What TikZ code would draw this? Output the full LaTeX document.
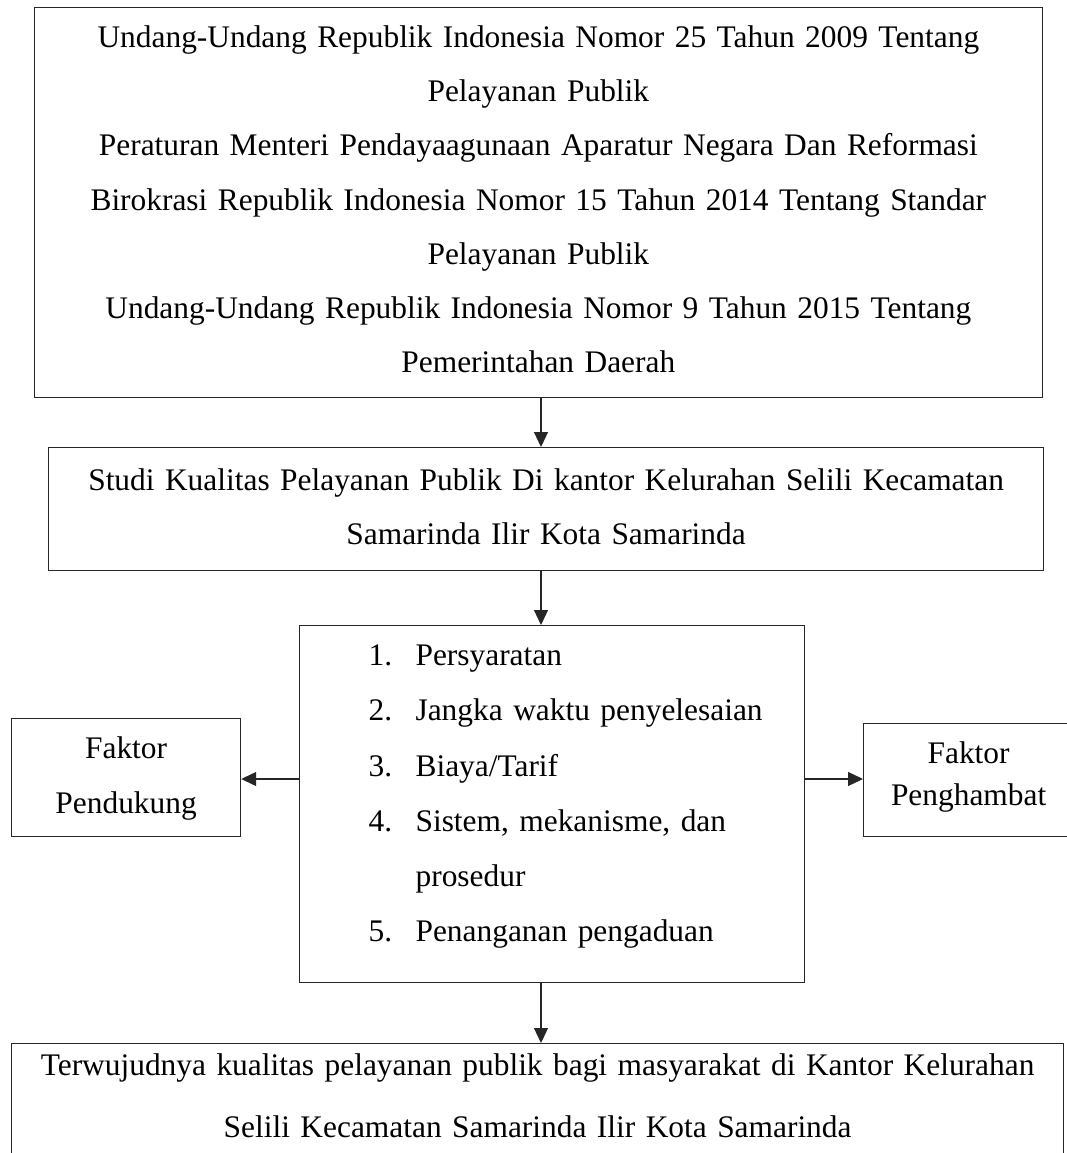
\documentclass[tikz,border=0pt]{standalone}
\usepackage{fontspec}
\setmainfont{Liberation Serif}
\usetikzlibrary{arrows.meta}
\tikzset{
  box/.style={draw=black!85, line width=1.2pt, inner sep=0pt, anchor=north west, align=center},
  listbox/.style={draw=black!85, line width=1.2pt, inner sep=0pt, anchor=north west, align=left},
  arr/.style={draw=black!85, line width=1.2pt, -{Triangle[length=15pt,width=14pt]}},
}
\newcommand{\fs}[1]{\fontsize{31.4}{#1}\selectfont}
\newcommand{\itm}[2]{\hspace*{69pt}\makebox[47pt][l]{#1}#2}
\begin{document}
\begin{tikzpicture}[x=1pt,y=-1pt]
\useasboundingbox (0,0) rectangle (1067,1153);
\clip (0,0) rectangle (1067,1153);
\fill[white] (0,0) rectangle (1067,1153);

\node[box, text width=1008.5pt, font=\fs{54.17}] (law) at (33.5,7)
 {\rule{0pt}{40pt}Undang-Undang Republik Indonesia Nomor 25 Tahun 2009 Tentang\\
  Pelayanan Publik\\
  Peraturan Menteri Pendayaagunaan Aparatur Negara Dan Reformasi\\
  Birokrasi Republik Indonesia Nomor 15 Tahun 2014 Tentang Standar\\
  Pelayanan Publik\\
  Undang-Undang Republik Indonesia Nomor 9 Tahun 2015 Tentang\\
  Pemerintahan Daerah\rule[-25pt]{0pt}{25pt}};

\node[box, text width=995pt, font=\fs{54}] (study) at (48,447)
 {\rule{0pt}{43pt}Studi Kualitas Pelayanan Publik Di kantor Kelurahan Selili Kecamatan\\
  Samarinda Ilir Kota Samarinda\rule[-26pt]{0pt}{26pt}};

\node[listbox, text width=505pt, font=\fs{55.2}] (ind) at (299,625)
 {\rule{0pt}{40pt}\itm{1.}{Persyaratan}\\
  \itm{2.}{Jangka waktu penyelesaian}\\
  \itm{3.}{Biaya/Tarif}\\
  \itm{4.}{Sistem, mekanisme, dan}\\
  \hspace*{116pt}prosedur\\
  \itm{5.}{Penanganan pengaduan}\rule[-41pt]{0pt}{41pt}};

\node[box, text width=229pt, font=\fs{55}] (sup) at (11,718)
 {\rule{0pt}{40pt}Faktor\\Pendukung\rule[-23pt]{0pt}{23pt}};

\node[box, text width=210pt, font=\fs{42}] (inh) at (863,723)
 {\rule{0pt}{40pt}Faktor\\Penghambat\rule[-31pt]{0pt}{31pt}};

\node[box, text width=1052pt, font=\fs{62}] (res) at (11,1043)
 {\rule{0pt}{32pt}Terwujudnya kualitas pelayanan publik bagi masyarakat di Kantor Kelurahan\\
  Selili Kecamatan Samarinda Ilir Kota Samarinda\rule[-30pt]{0pt}{30pt}};

\coordinate (ax) at (541,0);
\coordinate (ay) at (0,779);
\draw[arr] (law.south -| ax) -- (study.north -| ax);
\draw[arr] (study.south -| ax) -- (ind.north -| ax);
\draw[arr] (ind.south -| ax) -- (res.north -| ax);
\draw[arr] (ind.west |- ay) -- (sup.east |- ay);
\draw[arr] (ind.east |- ay) -- (inh.west |- ay);
\end{tikzpicture}
\end{document}
